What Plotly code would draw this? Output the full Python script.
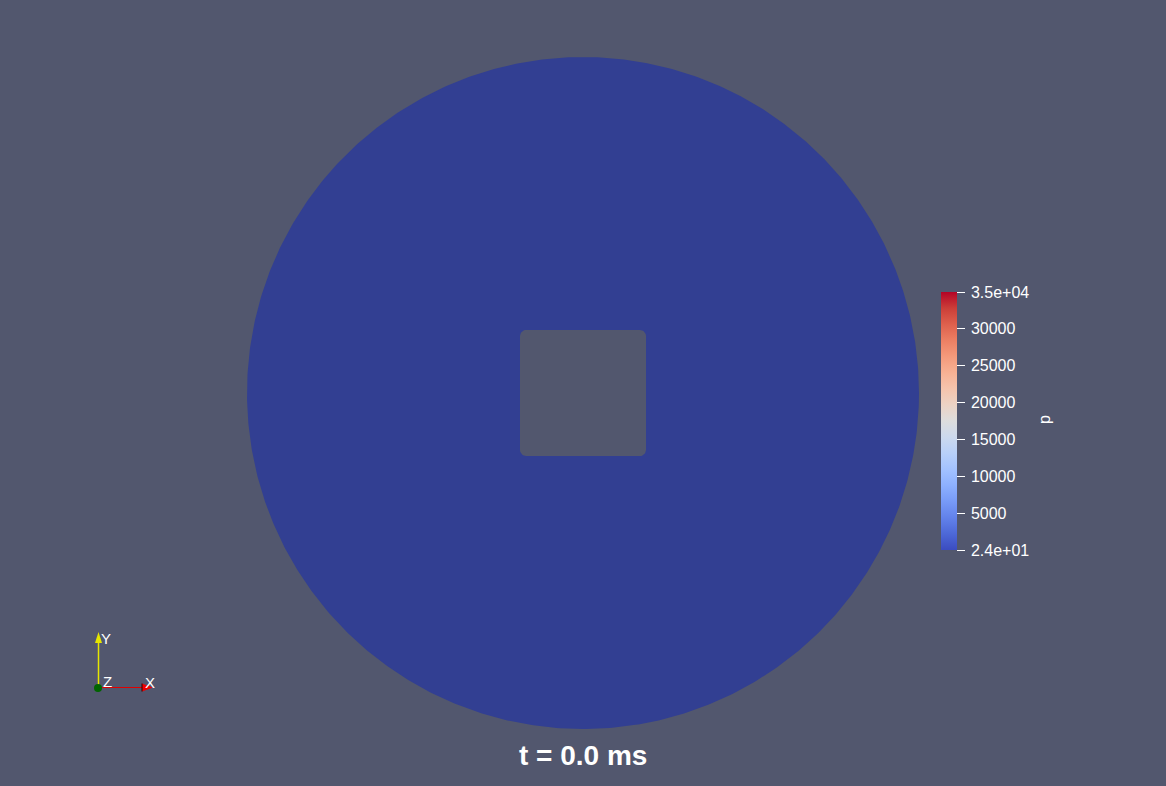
import numpy as np
import plotly.graph_objects as go

# ---------------- data ----------------
P_FIELD = [24.0]                 # pressure value on the mesh at t = 0 (uniform)
P_RANGE = [24.0, 35000.0]        # colour map range
TICK_VALS = [24, 5000, 10000, 15000, 20000, 25000, 30000, 35000]
TICK_TEXT = ["2.4e+01", "5000", "10000", "15000", "20000", "25000", "30000", "3.5e+04"]
FIELD_NAME = "p"
TIME_LABEL = "t = 0.0 ms"

DISK_RADIUS = [1.0]
HOLE_HALF = [0.1875]
HOLE_CORNER = [0.018]

# ParaView "Cool to Warm" colour map
CW_POS = [0.0, 0.0625, 0.125, 0.1875, 0.25, 0.3125, 0.375, 0.4375, 0.5,
          0.5625, 0.625, 0.6875, 0.75, 0.8125, 0.875, 0.9375, 1.0]
CW_RGB = [(59, 76, 192), (77, 104, 215), (98, 130, 234), (119, 154, 247),
          (141, 176, 254), (163, 194, 255), (184, 208, 249), (204, 217, 238),
          (221, 221, 221), (236, 211, 197), (245, 196, 173), (247, 177, 148),
          (244, 154, 123), (236, 127, 99), (222, 96, 77), (203, 62, 56),
          (180, 4, 38)]

BG = "#52576e"
W, H = 1166, 786
FONT = "Liberation Sans, Arial, sans-serif"

colorscale = [[p, "rgb(%d,%d,%d)" % c] for p, c in zip(CW_POS, CW_RGB)]


def cmap(v):
    t = (v - P_RANGE[0]) / (P_RANGE[1] - P_RANGE[0])
    rgb = [np.interp(t, CW_POS, [c[i] for c in CW_RGB]) for i in range(3)]
    # approximate ParaView surface lighting (ambient + diffuse)
    return "rgb(%d,%d,%d)" % tuple(int(round(0.72 * x + 8)) for x in rgb)


# ---------------- geometry ----------------
R = DISK_RADIUS[0]
a = HOLE_HALF[0]
rc = HOLE_CORNER[0]

th = np.linspace(0, 2 * np.pi, 721)
cx = list(R * np.cos(th))
cy = list(R * np.sin(th))

# rounded square, clockwise
hx, hy = [], []
corners = [(a - rc, a - rc, 90, 0), (a - rc, -a + rc, 0, -90),
           (-a + rc, -a + rc, -90, -180), (-a + rc, a - rc, 180, 90)]
for (ox, oy, t0, t1) in corners:
    ang = np.radians(np.linspace(t0, t1, 10))
    hx += list(ox + rc * np.cos(ang))
    hy += list(oy + rc * np.sin(ang))
hx.append(hx[0])
hy.append(hy[0])

fig = go.Figure()
fig.add_trace(go.Scatter(
    x=cx + [None] + hx, y=cy + [None] + hy,
    mode="lines", fill="toself", fillcolor=cmap(P_FIELD[0]),
    line=dict(width=0, color=cmap(P_FIELD[0])),
    hoverinfo="skip", showlegend=False))

# colour bar carrier
fig.add_trace(go.Scatter(
    x=[0], y=[0], mode="markers",
    marker=dict(color=P_FIELD, colorscale=colorscale, cmin=P_RANGE[0], cmax=P_RANGE[1],
                opacity=0, size=1, showscale=True,
                colorbar=dict(
                    thickness=16, len=258, lenmode="pixels",
                    x=941 / W, xanchor="left", xpad=0,
                    y=1 - 421 / H, yanchor="middle", ypad=0,
                    outlinewidth=0, tickmode="array",
                    tickvals=TICK_VALS, ticktext=["\u2009" + t for t in TICK_TEXT],
                    ticks="outside", ticklen=8, tickwidth=1.2, tickcolor="white",
                    tickfont=dict(family=FONT, size=16, color="white"))),
    hoverinfo="skip", showlegend=False))

sx = 583 / 336 * R
sy = 393 / 336 * R
fig.update_xaxes(visible=False, range=[-sx, sx], fixedrange=True)
fig.update_yaxes(visible=False, range=[-sy, sy], fixedrange=True)


def px(x):
    return x / W


def py(y):
    return 1 - y / H


def label(text, x, y, size, angle=0, family=FONT):
    return dict(text=text, x=px(x), y=py(y), xref="paper", yref="paper",
                xanchor="center", yanchor="middle", showarrow=False, textangle=angle,
                font=dict(family=family, size=size, color="white"))


annotations = [
    label(FIELD_NAME, 1044, 420, 16, angle=-90),
    label("<b>" + TIME_LABEL + "</b>", 583, 755, 28),
    label("Y", 106, 638, 15),
    label("Z", 107, 681, 15),
    label("X", 150, 682, 15),
]

shapes = [
    # Y axis of triad
    dict(type="line", xref="paper", yref="paper", x0=px(98.5), y0=py(687), x1=px(98.5), y1=py(642),
         line=dict(color="#e6e600", width=1.5)),
    dict(type="path", xref="paper", yref="paper",
         path="M %f %f L %f %f L %f %f Z" % (px(95), py(643), px(102), py(643), px(98.5), py(632)),
         fillcolor="#e6e600", line=dict(width=0)),
    # X axis of triad
    dict(type="line", xref="paper", yref="paper", x0=px(98), y0=py(687.5), x1=px(143), y1=py(687.5),
         line=dict(color="#e00000", width=1)),
    dict(type="path", xref="paper", yref="paper",
         path="M %f %f L %f %f L %f %f Z" % (px(142), py(683.5), px(142), py(691.5), px(153), py(687.5)),
         fillcolor="#ee0000", line=dict(width=0)),
    dict(type="line", xref="paper", yref="paper", x0=px(142), y0=py(683.5), x1=px(142), y1=py(691.5),
         line=dict(color="#330000", width=1)),
    # Z axis (pointing at viewer)
    dict(type="circle", xref="paper", yref="paper", x0=px(94), y0=py(692), x1=px(102), y1=py(684),
         fillcolor="#006400", line=dict(width=0)),
]

fig.update_layout(
    width=W, height=H, margin=dict(l=0, r=0, t=0, b=0),
    paper_bgcolor=BG, plot_bgcolor=BG,
    annotations=annotations, shapes=shapes, showlegend=False)

fig.write_html("out.html", config={"displayModeBar": False})
